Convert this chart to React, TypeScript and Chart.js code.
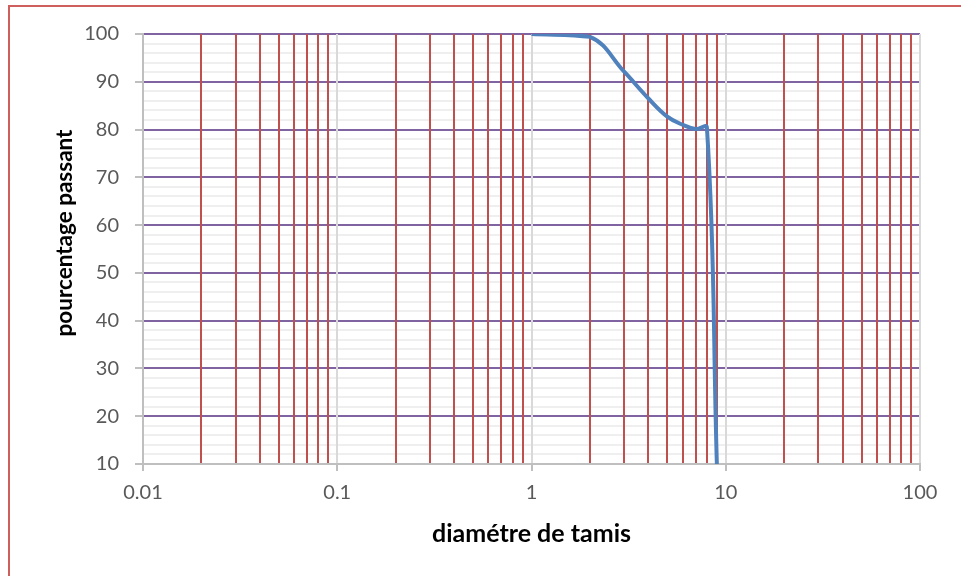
import React, { useEffect, useRef } from "react";
import { Chart, registerables } from "chart.js";

Chart.register(...registerables);

// Data
const sieveSizes = [1, 2, 3, 4, 5, 6, 7, 8, 9];
const passingPercent = [100, 99.4, 92.1, 86.5, 82.7, 81.0, 80.1, 80.4, 10];

// Axis settings
const xDecades = [0.01, 0.1, 1, 10, 100];
const xMultipliers = [1, 2, 3, 4, 5, 6, 7, 8, 9];
const yMin = 10;
const yMax = 100;
const yMinorStep = 2;
const yMajorStep = 10;

const xTitle = "diamétre de tamis";
const yTitle = "pourcentage passant";

const isDecade = (v: number) => Math.abs(Math.log10(v) - Math.round(Math.log10(v))) < 1e-6;

export default function App() {
  const canvasRef = useRef<HTMLCanvasElement | null>(null);

  useEffect(() => {
    const canvas = canvasRef.current;
    if (!canvas) return;

    const xTicks: number[] = [];
    xDecades.forEach((d, i) => {
      if (i === xDecades.length - 1) {
        xTicks.push(d);
      } else {
        xMultipliers.forEach((m) => xTicks.push(parseFloat((d * m).toPrecision(6))));
      }
    });
    const yTicks: number[] = [];
    for (let v = yMin; v <= yMax + 1e-9; v += yMinorStep) yTicks.push(v);

    const yTitlePlugin = {
      id: "yTitlePlugin",
      afterDraw(chart: any) {
        const ctx = chart.ctx;
        ctx.save();
        ctx.translate(65, 233);
        ctx.rotate(-Math.PI / 2);
        ctx.font = "bold 22.5px Lato";
        ctx.fillStyle = "#000000";
        ctx.textAlign = "center";
        ctx.textBaseline = "middle";
        ctx.fillText(yTitle, 0, 0);
        ctx.restore();
      },
    };

    const chart = new Chart(canvas, {
      type: "line",
      data: {
        datasets: [
          {
            data: sieveSizes.map((x, i) => ({ x, y: passingPercent[i] })),
            borderColor: "#4f81bd",
            borderWidth: 4,
            pointRadius: 0,
            tension: 0.4,
            fill: false,
          },
        ],
      },
      options: {
        animation: false,
        responsive: false,
        maintainAspectRatio: false,
        layout: { padding: { left: 0, top: 34, right: 41, bottom: 0 } },
        plugins: {
          legend: { display: false },
          tooltip: { enabled: false },
        },
        scales: {
          x: {
            type: "logarithmic",
            min: 0.01,
            max: 100,
            afterBuildTicks: (scale: any) => {
              scale.ticks = xTicks.map((v) => ({ value: v }));
            },
            afterFit: (scale: any) => {
              scale.height = 112;
            },
            ticks: {
              autoSkip: false,
              maxRotation: 0,
              padding: 10,
              color: "#595959",
              font: { family: "Lato", size: 20 },
              callback: (value: any) => (isDecade(Number(value)) ? String(Number(value)) : ""),
            },
            grid: {
              z: -1,
              lineWidth: 2,
              tickLength: 7,
              color: (ctx: any) => (ctx.tick && isDecade(ctx.tick.value) ? "#d9d9d9" : "#c0504d"),
              tickColor: (ctx: any) => (ctx.tick && isDecade(ctx.tick.value) ? "#bfbfbf" : "rgba(0,0,0,0)"),
            },
            border: { display: true, color: "#bfbfbf", width: 2 },
            title: {
              display: true,
              text: xTitle,
              color: "#000000",
              font: { family: "Lato", size: 25, weight: "bold" },
              padding: { top: 0, bottom: 27 },
            },
          },
          y: {
            type: "linear",
            min: yMin,
            max: yMax,
            afterBuildTicks: (scale: any) => {
              scale.ticks = yTicks.map((v) => ({ value: v }));
            },
            afterFit: (scale: any) => {
              scale.width = 143;
            },
            ticks: {
              autoSkip: false,
              padding: 16,
              color: "#595959",
              font: { family: "Lato", size: 20 },
              callback: (value: any) => (Number(value) % yMajorStep === 0 ? String(value) : ""),
            },
            grid: {
              z: -2,
              lineWidth: 2,
              tickLength: 8,
              color: (ctx: any) =>
                ctx.tick && ctx.tick.value % yMajorStep === 0 ? "#8064a2" : "#efefef",
              tickColor: (ctx: any) =>
                ctx.tick && ctx.tick.value % yMajorStep === 0 ? "#bfbfbf" : "rgba(0,0,0,0)",
            },
            border: { display: true, color: "#bfbfbf", width: 2 },
          },
        },
      },
      plugins: [yTitlePlugin],
    } as any);

    return () => chart.destroy();
  }, []);

  return (
    <div
      style={{
        position: "fixed",
        left: 0,
        top: 0,
        width: 961,
        height: 576,
        overflow: "hidden",
        background: "#ffffff",
      }}
    >
      <div
        style={{
          position: "absolute",
          left: 8,
          top: 5,
          width: 1200,
          height: 1200,
          borderLeft: "2px solid #cf5f5c",
          borderTop: "2px solid #cf5f5c",
        }}
      />
      <canvas
        ref={canvasRef}
        width={961}
        height={576}
        style={{ position: "absolute", left: 0, top: 0, width: 961, height: 576 }}
      />
    </div>
  );
}
